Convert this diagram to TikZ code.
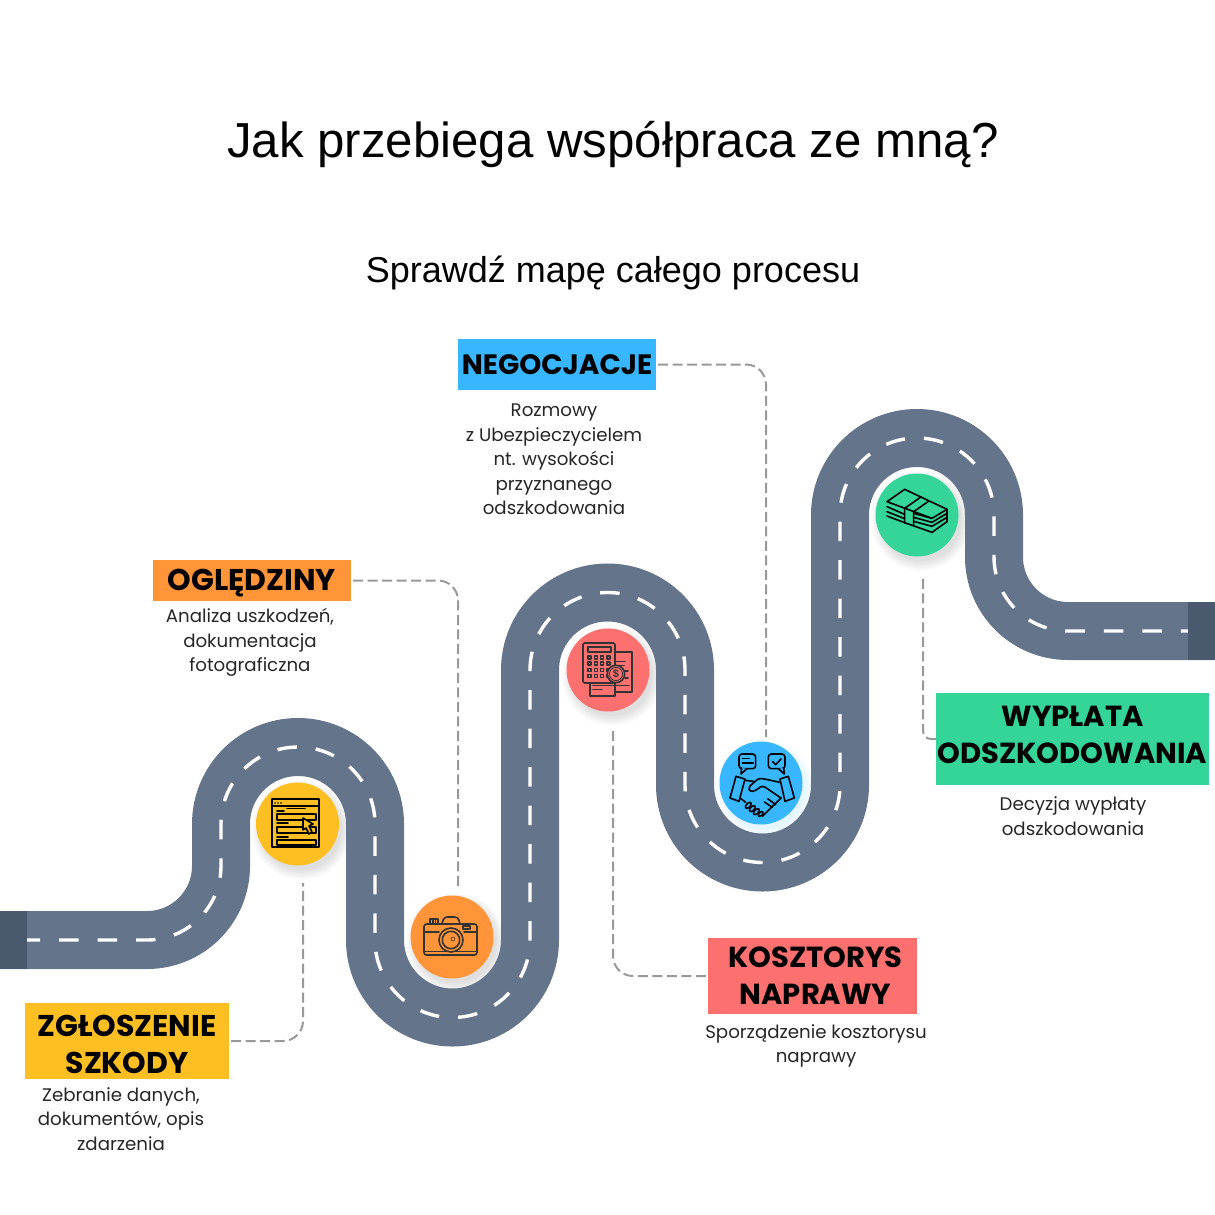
\documentclass[tikz,border=0pt]{standalone}
\usepackage{fontspec}
\setmainfont{Liberation Sans}
\newfontfamily\labelfont{Poppins}
\definecolor{roadgrey}{HTML}{64748B}
\definecolor{roadend}{HTML}{4A5A6E}
\definecolor{leadgrey}{HTML}{999999}
\definecolor{icondark}{HTML}{333333}
\definecolor{stopyellow}{HTML}{FDBF22}
\definecolor{stoporange}{HTML}{FF9538}
\definecolor{stopred}{HTML}{FC7070}
\definecolor{stopblue}{HTML}{38B6FF}
\definecolor{stopgreen}{HTML}{35D59A}
\def\roadbend{(147,940) arc[start angle=90,end angle=0,radius=74] -- (221,824)
  arc[start angle=180,end angle=360,radius=77] -- (375,940)
  arc[start angle=180,end angle=0,radius=77.5] -- (530,670)
  arc[start angle=180,end angle=360,radius=77.5] -- (685,785)
  arc[start angle=180,end angle=0,radius=77.5] -- (840,515)
  arc[start angle=180,end angle=360,radius=77] -- (994,557)
  arc[start angle=180,end angle=90,radius=74]}
\def\nudge#1#2{\raisebox{#1}[\height][\depth]{#2}}
\begin{document}
\begin{tikzpicture}[x=1pt, y=-1pt,
    roadbed/.style={draw=roadgrey, line width=58},
    roadmark/.style={draw=white, line width=3.4, dash pattern=on 19.5 off 19, dash phase=6.5},
    stopdisc/.style={circle, minimum size=83, inner sep=0},
    titlebox/.style={inner sep=0, font=\labelfont\bfseries\fontsize{29}{37}\selectfont, align=center},
    desc/.style={inner sep=0, align=center, text=black!85, font=\labelfont\fontsize{18.2}{24.6}\selectfont},
    leader/.style={draw=leadgrey, line width=2, dash pattern=on 10 off 4.5, rounded corners=20, shorten <=2},
    iconline/.style={line width=1.6, draw=black, line cap=round, line join=round},
    darkline/.style={line width=1.6, draw=icondark, line cap=round, line join=round}]
\useasboundingbox (0,0) rectangle (1215,1215);

\node[inner sep=0, font=\fontsize{49.2}{50}\selectfont] (title) at (613,145) {Jak przebiega współpraca ze mną?};
\node[inner sep=0, font=\fontsize{36}{40}\selectfont] (subtitle) at (613,273) {Sprawdź mapę całego procesu};

% soft shadows go under the road
\foreach \nm/\px/\py/\shade in {a/297.5/824/black, b/452/937/black, c/608/670/black, d/761/783/stopblue, e/917/515/black}
  \foreach \k in {0,...,7}
    \fill[\shade, opacity=.015] (\px+4,\py+6) circle (40+\k*1.4);

% road
\draw[roadbed] (0,940) -- \roadbend -- (1215,631);
\draw[roadmark] (27,940) -- \roadbend -- (1188,631);
\fill[roadend] (0,911) rectangle (27,969);
\fill[roadend] (1188,602) rectangle (1215,660);

% stops
\node[stopdisc, fill=stopyellow] (stopa) at (297.5,824) {};
\node[stopdisc, fill=stoporange] (stopb) at (452,937) {};
\node[stopdisc, fill=stopred] (stopc) at (608,670) {};
\node[stopdisc, fill=stopblue] (stopd) at (761,783) {};
\node[stopdisc, fill=stopgreen] (stope) at (917,515) {};

% labels
\node[titlebox, fill=stopyellow, minimum width=204, minimum height=76, font=\labelfont\bfseries\fontsize{30}{37}\selectfont] (zgloszenie) at (127,1041) {\nudge{-3pt}{ZGŁOSZENIE}\\\nudge{-3pt}{SZKODY}};
\node[titlebox, fill=stoporange, minimum width=198, minimum height=41, font=\labelfont\bfseries\fontsize{30}{37}\selectfont] (ogledziny) at (252,580.5) {\nudge{-3pt}{OGLĘDZINY}};
\node[titlebox, fill=stopblue, minimum width=198, minimum height=51, font=\labelfont\bfseries\fontsize{28}{37}\selectfont] (negocjacje) at (557,364.5) {NEGOCJACJE};
\node[titlebox, fill=stopred, minimum width=209, minimum height=76] (kosztorys) at (812.5,976) {\hspace*{6pt}KOSZTORYS\\\hspace*{6pt}NAPRAWY};
\node[titlebox, fill=stopgreen, minimum width=273, minimum height=92] (wyplata) at (1072.5,739) {\nudge{4pt}{WYPŁATA}\\\nudge{4pt}{ODSZKODOWANIA}};

\node[desc] (zgloszeniedesc) at (121,1119) {Zebranie danych,\\dokumentów, opis\\zdarzenia};
\node[desc] (ogledzinydesc) at (250,642.5) {Analiza uszkodzeń,\\dokumentacja\\fotograficzna};
\node[desc] (negocjacjedesc) at (554,459.5) {Rozmowy\\z Ubezpieczycielem\\nt. wysokości\\przyznanego\\odszkodowania};
\node[desc] (kosztorysdesc) at (816,1046) {Sporządzenie kosztorysu\\naprawy};
\node[desc] (wyplatadesc) at (1073,816) {Decyzja wypłaty\\odszkodowania};

% leaders
\coordinate (enda) at (303,883);
\coordinate (endb) at (458,890);
\coordinate (endc) at (613,731);
\coordinate (endd) at (766,737);
\coordinate (ende) at (923,578);
\draw[leader] (zgloszenie.east) -| (enda);
\draw[leader] (ogledziny.east) -| (endb);
\draw[leader] (kosztorys.west) -| (endc);
\draw[leader] (negocjacje.east) -| (endd);
\draw[leader, rounded corners=8, shorten <=0] (wyplata.west) -| (ende);

% form icon
\begin{scope}[iconline]
  \draw (272,799) rectangle (319,847);
  \draw (272,806) -- (319,806);
  \foreach \x in {275,278,281} \fill (\x,803) circle (.9);
  \draw (287,808.5) -- (305,808.5);
  \draw (277,811) -- (284,811);
  \draw (277,814) rectangle (316,820);
  \draw (277,823) -- (288,823);
  \draw (277,827) rectangle (316,833);
  \draw (277,837) -- (288,837);
  \draw (277,840) rectangle (316,845);
  \draw[fill=stopyellow] (303,818) -- (313,824) -- (309,826) -- (312,832) -- (309,834) -- (306,828) -- (303,830) -- cycle;
\end{scope}

% camera icon
\begin{scope}[darkline]
  \draw[rounded corners=2.5] (424,924) rectangle (477,955);
  \draw[rounded corners=3] (442,924) -- (444,917) -- (458,917) -- (460,924);
  \draw (430,924) -- (430,919) -- (438,919) -- (438,924);
  \draw (433,919) -- (433,924) (435.5,919) -- (435.5,924);
  \draw (463,926) rectangle (470,929);
  \draw (424,932) -- (439,932) (464,932) -- (477,932);
  \draw (424,951.5) -- (477,951.5);
  \draw[fill=stoporange] (451,940) circle (12);
  \draw (451,940) circle (8.7);
  \draw[line width=.6] (453,939) circle (2);
\end{scope}

% calculator icon
\begin{scope}[darkline]
  \draw (615,652) -- (632,652) -- (632,692) -- (615,692);
  \draw (590,683) -- (590,696) -- (615,696) -- (615,683);
  \draw[rounded corners=1.5] (583,643) rectangle (615,683);
  \draw (588,647) rectangle (611,652);
  \foreach \x in {589.5,596,602,608.5}
    \foreach \y in {657.5,663.5,670,676}
      \draw (\x-1.5,\y-1.5) rectangle (\x+1.5,\y+1.5);
  \draw (593,685.5) -- (602,685.5) (593,689.5) -- (602,689.5) (603,685.5) -- (629,685.5);
  \draw (616,661.5) -- (625,661.5) (617,665.5) -- (624,665.5) (625,671) -- (628,671) (625,678) -- (628,678);
  \draw[fill=stopred] (616,674) circle (8.7);
  \draw[line width=.8] (616,674) circle (6.6);
\end{scope}
\node[inner sep=0, text=icondark, font=\bfseries\fontsize{11}{11}\selectfont] (coinsign) at (616,674) {\$};

% handshake icon
\begin{scope}[shift={(725,748)}, scale=.3333, iconline]
  \draw[rounded corners=3] (42,18) rectangle (92,62);
  \draw[fill=stopblue] (50,60) -- (48,78) -- (66,62);
  \draw (52,32) -- (72,32) (52,45) -- (85,45);
  \draw[rounded corners=3] (130,18) rectangle (180,62);
  \draw[fill=stopblue] (160,62) -- (178,78) -- (176,60);
  \draw (143,41) -- (152,50) -- (168,33);
  \draw (33,85) -- (60,93) -- (42,160) -- (15,150) -- cycle;
  \draw (165,93) -- (190,85) -- (208,150) -- (180,160) -- cycle;
  \draw (60,97) -- (85,100);
  \draw[rounded corners=3] (165,103) -- (128,95) -- (102,90) -- (70,118) -- (75,132) -- (92,128) -- (112,112) -- (168,150);
  \draw (45,150) -- (62,163);
  \draw (112,205) -- (168,150);
  \draw (118,162) -- (142,178) (128,152) -- (152,170);
  \draw[fill=stopblue] (70,172) ellipse [x radius=11, y radius=6, rotate=45];
  \draw[fill=stopblue] (82,182) ellipse [x radius=11, y radius=6, rotate=45];
  \draw[fill=stopblue] (94,191) ellipse [x radius=11, y radius=6, rotate=45];
  \draw[fill=stopblue] (107,198) ellipse [x radius=9, y radius=5, rotate=45];
\end{scope}

% money icon
\begin{scope}[shift={(882,480)}, scale=.3333, iconline, line width=1.6]
  \draw (68,28) -- (195,88) -- (150,115) -- (15,65) -- cycle;
  \draw (118,50) -- (68,85) -- (68,128);
  \draw (142,62) -- (95,95) -- (95,135);
  \draw (15,80) -- (68,103) (15,95) -- (68,116) (15,108) -- (68,128);
  \draw (95,100) -- (150,115);
  \draw (95,112) -- (150,127) -- (195,100);
  \draw (95,124) -- (150,139) -- (195,112);
  \draw (68,128) -- (150,157) -- (195,125);
  \draw (195,88) -- (195,125);
\end{scope}
\end{tikzpicture}
\end{document}
